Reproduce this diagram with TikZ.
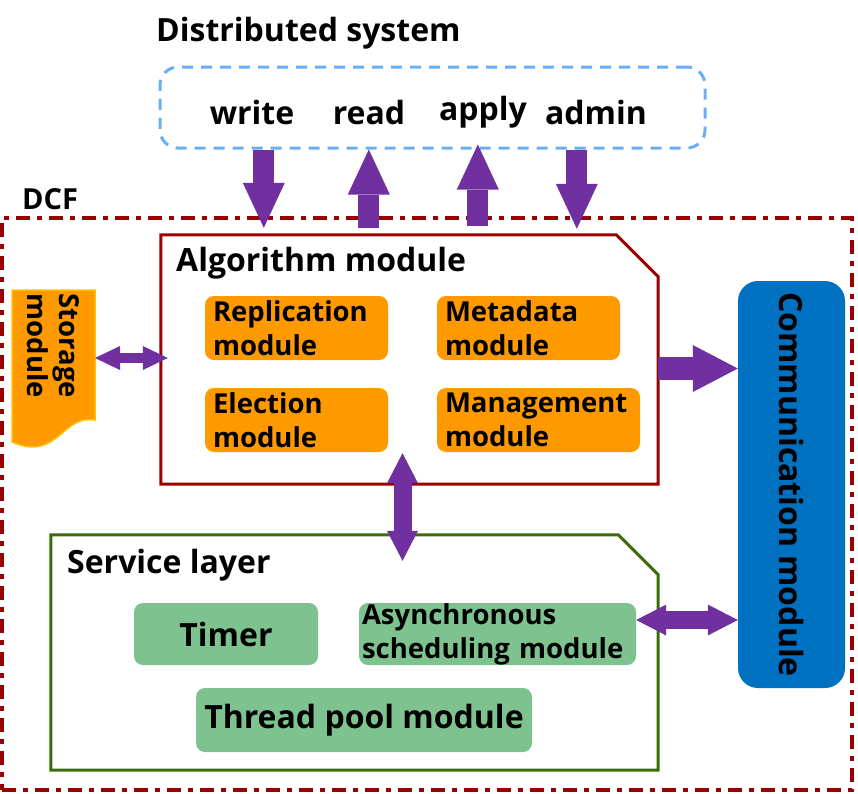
\documentclass[tikz,border=0pt]{standalone}
\usepackage{fontspec}
\setmainfont{Open Sans}
\usetikzlibrary{arrows.meta,positioning}
\definecolor{orng}{HTML}{FF9900}
\definecolor{stborder}{HTML}{FFC000}
\definecolor{commblue}{HTML}{0070C0}
\definecolor{purp}{HTML}{7030A0}
\definecolor{dred}{HTML}{990000}
\definecolor{dgreen}{HTML}{3B6E0A}
\definecolor{lgreen}{HTML}{7EC28F}
\definecolor{lblue}{HTML}{6AAFF5}

\begin{document}
\begin{tikzpicture}[x=1pt,y=-1pt,
  every node/.style={font=\bfseries\fontsize{32}{34}\selectfont, inner sep=0pt},
  obox/.style={fill=orng, rounded corners=9pt, inner xsep=8pt, align=left,
    font=\bfseries\fontsize{27.5}{34}\selectfont},
  gbox/.style={fill=lgreen, rounded corners=9pt, align=center},
  bigarrow/.style={draw=purp, line width=21pt,
    -{Triangle[length=45pt,width=42pt,line width=0pt]}},
  dblarrow/.style={draw=purp, line width=18pt,
    {Triangle[length=30pt,width=31pt,line width=0pt]}-{Triangle[length=30pt,width=31pt,line width=0pt]}}
  ]
  \useasboundingbox (0,0) rectangle (858,793);

  % distributed system
  \node[anchor=west] (dtitle) at (156,33) {Distributed system};
  \node[draw=lblue, line width=3pt, dash pattern=on 11pt off 8pt, rounded corners=18pt,
    minimum width=545pt, minimum height=81pt] (dsys) at (432.5,107.5) {};
  \node (write) at (252,112) {write};
  \node (read) at (369,112) {read};
  \node (apply) at (483,112) {apply};
  \node (admin) at (596,112) {admin};

  % DCF frame
  \node[anchor=west, font=\bfseries\fontsize{29}{30}\selectfont] (dcftitle) at (22,199) {DCF};
  \node[draw=dred, line width=4pt, dash pattern=on 14pt off 7pt on 5pt off 7pt,
    minimum width=850pt, minimum height=572pt] (dcf) at (427,504) {};

  % algorithm module
  \node[minimum width=497pt, minimum height=249pt] (alg) at (409.5,359.5) {};
  \draw[dred, line width=3pt] (alg.north west) -- ([xshift=-42pt]alg.north east)
    -- ([yshift=-42pt]alg.north east) -- (alg.south east) -- (alg.south west) -- cycle;
  \node[anchor=west] (algtitle) at (176,263) {Algorithm module};
  \node[obox, text width=167pt, minimum height=64pt] (repl) at (296.5,328) {Replication\\module};
  \node[obox, text width=167pt, minimum height=64pt] (meta) at (528.5,328) {Metadata\\module};
  \node[obox, text width=167pt, minimum height=64pt] (elec) at (296.5,420) {Election\\module};
  \node[obox, text width=187pt, minimum height=64pt] (mgmt) at (538.5,420) {Management\\module};

  % storage module
  \draw[fill=orng, draw=stborder, line width=1.5pt] (12,290) -- (95,290) -- (95,420)
    .. controls (62,414) and (58,462) .. (12,442) -- cycle;
  \node[rotate=-90, align=center, font=\bfseries\fontsize{27.5}{32}\selectfont] (store) at (53,346) {Storage\\module};
  \coordinate (starrow) at (95,358);

  % communication module
  \node[fill=commblue, rounded corners=20pt, minimum width=107pt, minimum height=407pt] (comm) at (791.5,484.5) {};
  \node[rotate=-90] (commtext) at (comm.center) {Communication module};

  % service layer
  \node[minimum width=607pt, minimum height=235pt] (svc) at (354.5,652.5) {};
  \draw[dgreen, line width=3pt] (svc.north west) -- ([xshift=-40pt]svc.north east)
    -- ([yshift=-40pt]svc.north east) -- (svc.south east) -- (svc.south west) -- cycle;
  \node[anchor=west] (svctitle) at (67,565) {Service layer};
  \node[gbox, minimum width=184pt, minimum height=62pt] (timer) at (226,634) {Timer};
  \node[gbox, text width=271pt, inner xsep=3pt, align=left, minimum height=62pt,
    font=\bfseries\fontsize{27.5}{34}\selectfont] (async) at (497.5,634) {Asynchronous\\scheduling module};
  \node[gbox, minimum width=336pt, minimum height=64pt] (thread) at (364,720) {Thread pool module};

  % arrows
  \draw[bigarrow] ([xshift=103pt]alg.north west |- dsys.south) -- ([xshift=103pt, yshift=7pt]alg.north west);
  \draw[bigarrow] ([xshift=208pt, yshift=7pt]alg.north west) -- ([xshift=208pt]alg.north west |- dsys.south);
  \draw[bigarrow] ([xshift=317pt, yshift=9pt]alg.north west) -- ([xshift=317pt, yshift=5pt]alg.north west |- dsys.south);
  \draw[bigarrow] ([xshift=416pt]alg.north west |- dsys.south) -- ([xshift=416pt, yshift=6pt]alg.north west);
  \draw[draw=purp, line width=23pt, -{Triangle[length=45pt,width=47pt,line width=0pt]}]
    ([yshift=-9pt]alg.east) -- ([yshift=-9pt]alg.east -| comm.west);
  \draw[draw=purp, line width=10pt,
    {Triangle[length=25pt,width=24pt,line width=0pt]}-{Triangle[length=25pt,width=24pt,line width=0pt]}]
    (starrow) -- ([xshift=7pt]alg.west |- starrow);
  \draw[dblarrow] ([xshift=-7pt, yshift=31pt]alg.south) -- ([xshift=-7pt, yshift=-26pt]alg.south |- svc.north);
  \draw[dblarrow] ([yshift=14pt]async.east) -- ([yshift=14pt]async.east -| comm.west);
\end{tikzpicture}
\end{document}
